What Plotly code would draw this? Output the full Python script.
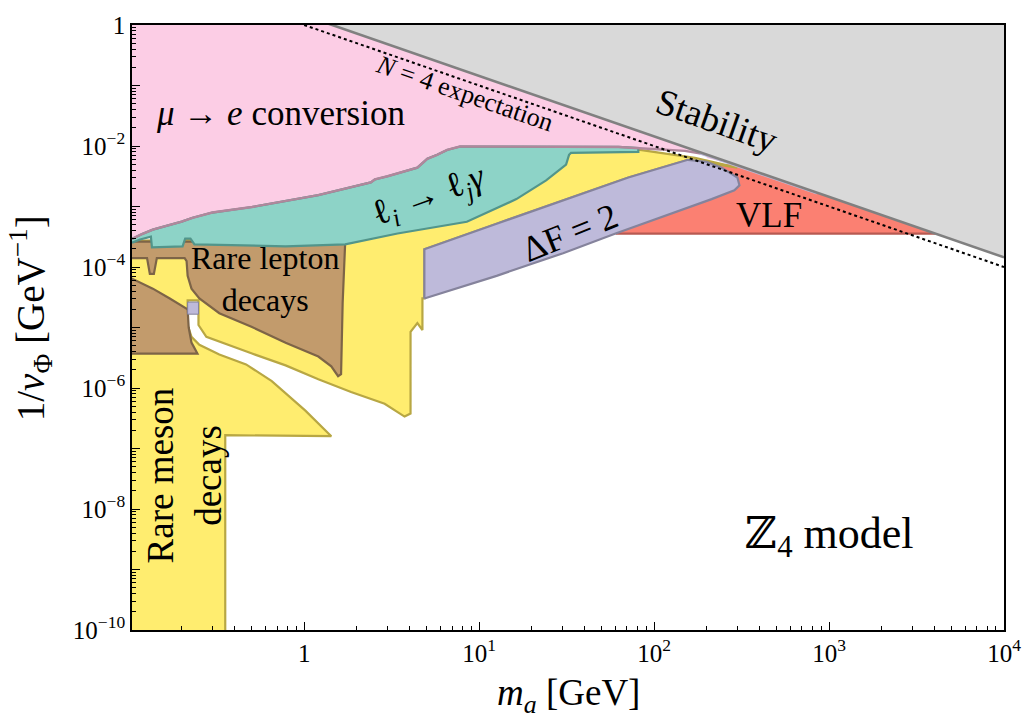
import plotly.graph_objects as go

# ---- axis settings ----
x_tick_vals = [1, 10, 100, 1000, 10000]
x_tick_text = ["1", "10<sup>1</sup>", "10<sup>2</sup>", "10<sup>3</sup>", "10<sup>4</sup>"]
y_tick_vals = [10.0**e for e in range(-10, 1)]
y_tick_text = ["10<sup>−10</sup>", "", "10<sup>−8</sup>", "", "10<sup>−6</sup>", "",
               "10<sup>−4</sup>", "", "10<sup>−2</sup>", "", "1"]

# ---- region boundaries: (log10 m_a [GeV], log10 1/v_Phi [GeV^-1]) ----
pink_edge = [(-1.05, -3.56), (-0.978, -3.528), (-0.93, -3.46), (-0.865, -3.382), (-0.70, -3.25),
             (-0.638, -3.187), (-0.525, -3.10), (-0.298, -3.008), (0.081, -2.813), (0.381, -2.602),
             (0.404, -2.553), (0.477, -2.50), (0.647, -2.358), (0.704, -2.211), (0.760, -2.146),
             (0.817, -2.065), (0.891, -2.008), (1.797, -2.016), (1.989, -2.049), (2.176, -2.081),
             (2.301, -2.141)]

stability_line = [(0.11, 0.05), (4.0, -3.84)]
expectation_line = [(0.0, 0.0), (4.0, -4.0)]

teal_lower = [(1.91, -2.033), (1.91, -2.098), (1.525, -2.114), (1.514, -2.146), (1.497, -2.309),
              (1.383, -2.569), (1.213, -2.878), (0.930, -3.252), (0.534, -3.447), (0.234, -3.626),
              (-0.106, -3.659), (-0.485, -3.642), (-0.627, -3.626), (-0.65, -3.53), (-0.68, -3.53),
              (-0.695, -3.66), (-0.870, -3.675), (-0.876, -3.50), (-0.938, -3.545), (-0.978, -3.593),
              (-1.05, -3.60)]

yellow = [(-1.05, -10.5), (-0.451, -10.5), (-0.451, -6.78), (0.155, -6.797), (0.007, -6.374),
          (-0.185, -5.886), (-0.332, -5.61), (-0.485, -5.447), (-0.599, -5.285), (-0.644, -5.154),
          (-0.666, -4.959), (-0.666, -4.553), (-0.604, -4.553), (-0.604, -4.959), (-0.559, -5.154),
          (-0.485, -5.236), (-0.298, -5.431), (-0.106, -5.626), (0.081, -5.854), (0.268, -6.065),
          (0.460, -6.260), (0.574, -6.472), (0.608, -6.423), (0.608, -5.073), (0.647, -4.927),
          (0.676, -5.041), (0.676, -4.52), (0.687, -4.52), (0.687, -3.707), (1.100, -3.285),
          (1.480, -2.894), (1.853, -2.520), (2.193, -2.228), (2.476, -2.358), (2.233, -2.195),
          (2.046, -2.114), (1.91, -2.06), (1.52, -2.07), (1.45, -2.2), (1.2, -2.6), (0.93, -3.0),
          (0.234, -3.5), (-0.87, -3.55), (-1.05, -3.57)]

brown_upper = [(-1.05, -3.58), (0.234, -3.58), (0.234, -3.626), (0.22, -4.6), (0.211, -5.772),
               (0.194, -5.805), (0.155, -5.642), (0.081, -5.480), (-0.106, -5.252), (-0.298, -4.992),
               (-0.485, -4.764), (-0.599, -4.520), (-0.644, -4.358), (-0.666, -4.146), (-0.672, -3.902),
               (-0.683, -3.854), (-0.842, -3.854), (-0.859, -4.114), (-0.882, -4.114), (-0.898, -3.854),
               (-1.05, -3.854)]

brown_lower = [(-1.05, -4.10), (-0.865, -4.358), (-0.768, -4.520), (-0.666, -4.70), (-0.660, -5.0),
               (-0.644, -5.25), (-0.610, -5.431), (-1.05, -5.431)]

purple = [(0.687, -4.520), (0.687, -3.707), (1.100, -3.285), (1.480, -2.894), (1.853, -2.520),
          (2.193, -2.228), (2.30, -2.26), (2.386, -2.358), (2.476, -2.520), (2.488, -2.650),
          (2.459, -2.732), (2.329, -2.878), (2.046, -3.171), (1.780, -3.447), (1.480, -3.772),
          (1.100, -4.146), (0.687, -4.520)]

purple_notch = [(-0.666, -4.58), (-0.604, -4.58), (-0.604, -4.78), (-0.666, -4.78), (-0.666, -4.58)]

purple_sliver = [(2.26, -2.10), (2.929, -2.769), (2.929, -2.80), (2.26, -2.14)]

vlf = [(1.78, -3.447), (3.609, -3.447), (2.45, -2.29), (2.30, -2.35), (1.78, -3.447)]
vlf_floor = [(1.78, -3.447), (3.609, -3.447)]

gray = [(0.11, 0.05), (4.1, -3.94), (4.1, 0.05)]

FONT = "Liberation Serif, DejaVu Serif, serif"


def xy(points):
    return [10.0 ** p[0] for p in points], [10.0 ** p[1] for p in points]


fig = go.Figure()


def region(points, fill, line_color=None, width=2.0):
    x, y = xy(points)
    fig.add_trace(go.Scatter(
        x=x, y=y, mode="lines", fill="toself", fillcolor=fill,
        line=dict(color=line_color or fill, width=width if line_color else 0),
        hoverinfo="skip", showlegend=False))


def edge(points, color, width=2.0, dash=None):
    x, y = xy(points)
    fig.add_trace(go.Scatter(
        x=x, y=y, mode="lines", line=dict(color=color, width=width, dash=dash),
        hoverinfo="skip", showlegend=False))


pink_poly = [(-1.05, 0.05), (0.11, 0.05), (2.50, -2.34), (2.30, -2.20)] + pink_edge[::-1]
region(pink_poly, "#fccde5")
region(vlf, "#fb8072")
edge(vlf_floor, "#b85a52", 2.2)
region(yellow, "#ffed6f", "#b8a743", 2.2)
region(brown_upper, "#c29b6c", "#7d6447", 2.2)
region(brown_lower, "#c29b6c", "#7d6447", 2.2)
region(pink_edge[:-4] + [(1.797, -2.016)] + teal_lower, "#8dd3c7", "#52958b", 2.2)
edge(pink_edge, "#b0879c", 2.4)
region(purple, "#bebada", "#85839c", 2.2)
region(purple_notch, "#bebada", "#85839c", 1.0)
region(purple_sliver, "#bebada")
region(gray, "#d9d9d9")
edge(stability_line, "#808080", 2.6)
edge(expectation_line, "black", 2.0, "dot")

minor_x = [k * 10.0 ** d for d in range(-1, 4) for k in range(2, 10)]
minor_y = [k * 10.0 ** d for d in range(-10, 0) for k in range(2, 10)]

common = dict(ticks="inside", ticklen=8, tickwidth=1.2, tickcolor="black",
              showline=True, linecolor="black", linewidth=1.6, mirror=True,
              showgrid=False, zeroline=False,
              tickfont=dict(family=FONT, size=25, color="black"))
fig.update_xaxes(type="log", range=[-0.984, 4.0], tickvals=x_tick_vals, ticktext=x_tick_text,
                 minor=dict(tickmode="array", tickvals=minor_x, ticks="inside", ticklen=4,
                            tickwidth=1, tickcolor="black", showgrid=False), **common)
fig.update_yaxes(type="log", range=[-10.0, 0.0], tickvals=y_tick_vals, ticktext=y_tick_text,
                 minor=dict(tickmode="array", tickvals=minor_y, ticks="inside", ticklen=4,
                            tickwidth=1, tickcolor="black", showgrid=False), **common)

labels = [
    dict(x=-0.134, y=-1.463, text="<i>μ</i> → <i>e</i> conversion", size=35, angle=0),
    dict(x=0.919, y=-1.138, text="<i>N</i> = 4 expectation", size=26, angle=19),
    dict(x=2.357, y=-1.577, text="Stability", size=37, angle=19.5),
    dict(x=0.716, y=-2.829, text="ℓ<sub><i>i</i></sub> → ℓ<sub><i>j</i></sub><i>γ</i>", size=36, angle=-20),
    dict(x=1.515, y=-3.431, text="ΔF = 2", size=36, angle=-22),
    dict(x=2.658, y=-3.154, text="VLF", size=35, angle=0),
    dict(x=-0.224, y=-4.195, text="Rare lepton<br>decays", size=32, angle=0),
    dict(x=-0.683, y=-7.45, text="Rare meson<br>decays", size=37, angle=-90),
    dict(x=3.0, y=-8.455, text="ℤ<sub>4</sub> model", size=44, angle=0),
]
for a in labels:
    fig.add_annotation(x=a["x"], y=a["y"], xref="x", yref="y", text=a["text"], showarrow=False,
                       textangle=a["angle"], font=dict(family=FONT, size=a["size"], color="black"),
                       xanchor="center", yanchor="middle")

fig.add_annotation(x=0.5, y=-0.109, xref="paper", yref="paper", showarrow=False,
                   text="<i>m<sub>a</sub></i> [GeV]", font=dict(family=FONT, size=37, color="black"),
                   xanchor="center", yanchor="middle")
fig.add_annotation(x=-0.116, y=0.515, xref="paper", yref="paper", showarrow=False, textangle=-90,
                   text="1/<i>v</i><sub>Φ</sub> [GeV<sup>−1</sup>]",
                   font=dict(family=FONT, size=39, color="black"),
                   xanchor="center", yanchor="middle")

fig.update_layout(width=1033, height=722, margin=dict(l=132, r=21, t=15, b=92),
                  paper_bgcolor="white", plot_bgcolor="white", showlegend=False)

fig.write_html("out.html")
